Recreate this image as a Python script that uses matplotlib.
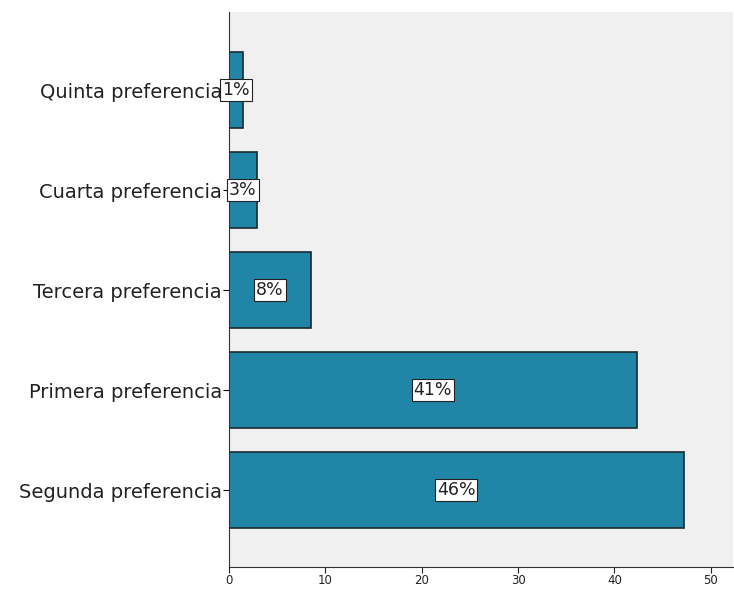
import matplotlib.pyplot as plt

categorias = ["Segunda preferencia", "Primera preferencia", "Tercera preferencia",
              "Cuarta preferencia", "Quinta preferencia"]
valores = [47.2, 42.3, 8.5, 2.9, 1.45]
etiquetas = ["46%", "41%", "8%", "3%", "1%"]

fig = plt.figure(figsize=(7.34, 5.89), dpi=100)
ax = fig.add_axes([229 / 734, 1 - 567 / 589, (733 - 229) / 734, (567 - 12) / 589])
ax.set_facecolor("#f0f0f0")

pos = range(len(categorias))
ax.barh(pos, valores, height=0.76, color="#2185a8", edgecolor="#1a2a30", linewidth=1.2)

for p, v, t in zip(pos, valores, etiquetas):
    ax.text(v / 2, p, t, ha="center", va="center", fontsize=12.5, color="#222222",
            bbox=dict(boxstyle="square,pad=0.1", facecolor="white", edgecolor="#222222", linewidth=0.8))

ax.set_yticks(list(pos))
ax.set_yticklabels(categorias, fontsize=14, color="#222222")
ax.set_xlim(0, 52.3)
ax.set_ylim(-0.77, 4.78)
ax.set_xticks([0, 10, 20, 30, 40, 50])
ax.tick_params(axis="x", labelsize=8.5, length=4, width=0.8, pad=1, colors="#222222")
ax.tick_params(axis="y", length=4, width=0.8, pad=1)

for s in ["top", "right"]:
    ax.spines[s].set_visible(False)
ax.spines["left"].set_color("#333333")
ax.spines["bottom"].set_color("#333333")

fig.savefig("out.png", dpi=100)
